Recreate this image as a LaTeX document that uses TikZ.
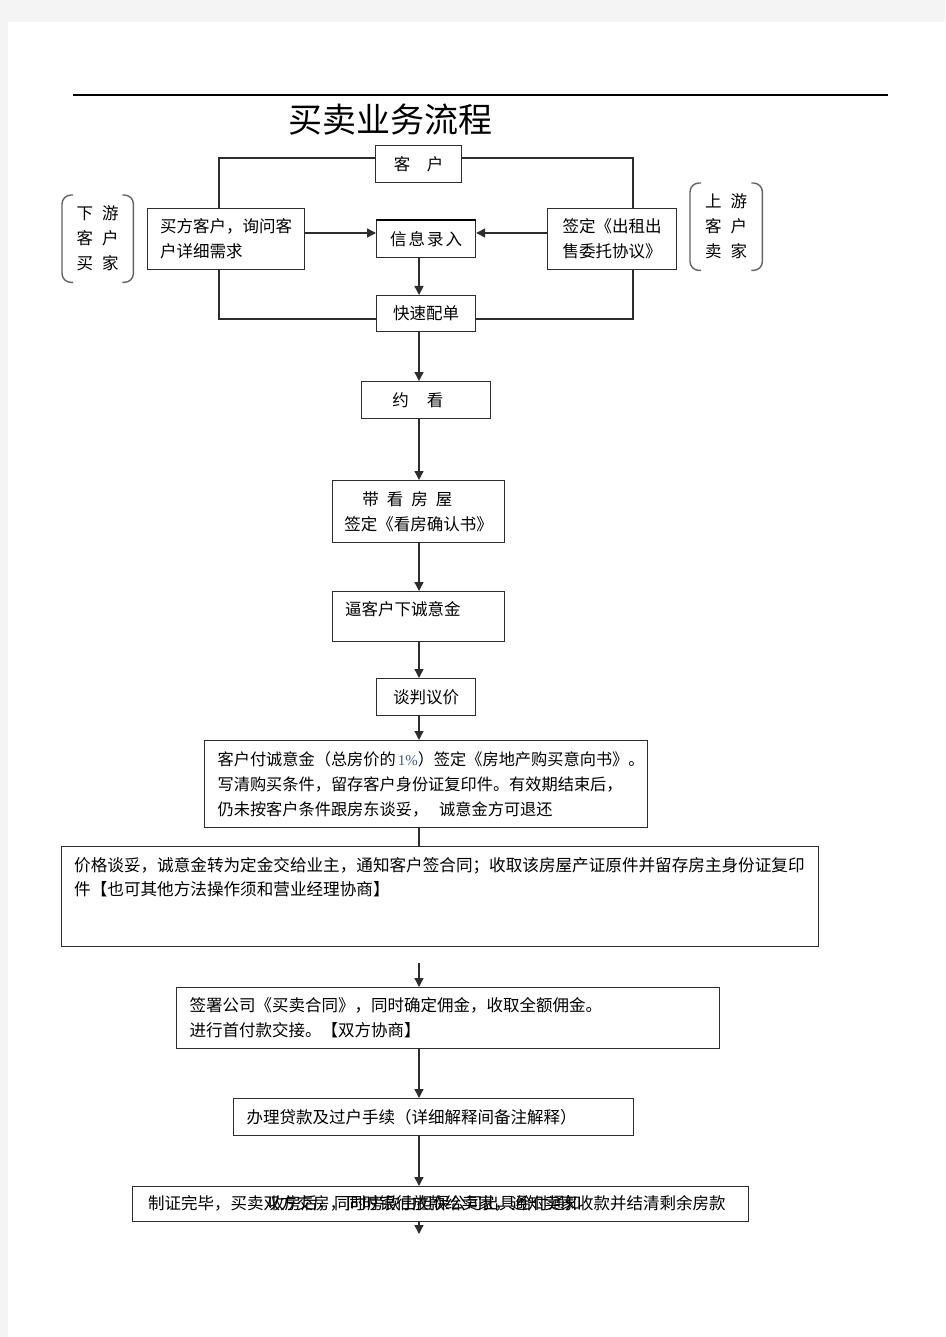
\documentclass[tikz,border=0pt]{standalone}
\usepackage{fontspec}
\setmainfont{Noto Sans CJK SC}
\newfontfamily\pctfont{Liberation Serif}
\usetikzlibrary{arrows.meta}
\definecolor{pagegrey}{RGB}{244,244,244}
\definecolor{linegrey}{RGB}{45,45,45}
\definecolor{parengrey}{RGB}{100,100,100}
\definecolor{pctblue}{RGB}{60,90,140}
\tikzset{
  box/.style={draw=linegrey, line width=1.2pt, anchor=north west, inner sep=0pt, align=left, font=\fontsize{16.5}{25}\selectfont},
  txt/.style={inner sep=0pt, align=left, font=\fontsize{16.5}{25}\selectfont},
  link/.style={draw=linegrey, line width=1.4pt},
  arr/.style={link, -{Triangle[length=9pt,width=9pt]}},
  paren/.style={draw=parengrey, line width=1.4pt, rounded corners=9pt},
}

\begin{document}
\begin{tikzpicture}[x=1pt,y=1pt,yscale=-1]
\useasboundingbox (0,0) rectangle (945,1337);
\fill[pagegrey] (0,0) rectangle (945,1337);
\fill[white] (8,22) rectangle (945,1337);
\draw[line width=1.2pt] (73,95) -- (888,95);
\node[font=\fontsize{34}{34}\selectfont, inner sep=0pt] (title) at (390,120) {买卖业务流程};

\coordinate (spine) at (419,0);
\coordinate (lx) at (219,0);
\coordinate (rx) at (633,0);
\coordinate (toprow) at (0,158);
\coordinate (midrow) at (0,233);
\coordinate (lowrow) at (0,319);
\coordinate (gapstart) at (419,963);
\coordinate (tail) at (419,1234);

\node[txt, anchor=north west, minimum width=71, minimum height=87, align=center] (xiayou) at (62,195) {下\hspace{9pt}游\\客\hspace{9pt}户\\买\hspace{9pt}家};
\draw[paren] ([xshift=11pt]xiayou.north west) -- (xiayou.north west) -- (xiayou.south west) -- ([xshift=11pt]xiayou.south west);
\draw[paren] ([xshift=-11pt]xiayou.north east) -- (xiayou.north east) -- (xiayou.south east) -- ([xshift=-11pt]xiayou.south east);
\node[txt, anchor=north west, minimum width=72, minimum height=87, align=center] (shangyou) at (690,183) {上\hspace{9pt}游\\客\hspace{9pt}户\\卖\hspace{9pt}家};
\draw[paren] ([xshift=11pt]shangyou.north west) -- (shangyou.north west) -- (shangyou.south west) -- ([xshift=11pt]shangyou.south west);
\draw[paren] ([xshift=-11pt]shangyou.north east) -- (shangyou.north east) -- (shangyou.south east) -- ([xshift=-11pt]shangyou.south east);

\node[box, minimum width=86, minimum height=37] (ke) at (375,145) {客\hspace{1em}户};
\node[box, minimum width=157, minimum height=61] (maifang) at (147,208) {买方客户，询问客\\户详细需求};
\node[box, minimum width=99, minimum height=37] (xinxi) at (376,220) {信\hspace{2pt}息\hspace{2pt}录\hspace{2pt}入};
\draw[line width=2.4pt] (xinxi.north west) -- (xinxi.north east);
\node[box, minimum width=129, minimum height=61] (qianding) at (547,208) {签定《出租出\\售委托协议》};
\node[box, minimum width=99, minimum height=36] (kuaisu) at (376,295) {快速配单};
\node[box, minimum width=129, minimum height=37] (yuekan) at (361,381) {约\hspace{18pt}看\phantom{户}};
\node[box, minimum width=172, minimum height=62] (daikan) at (332,480) {\hspace{18pt}带\hspace{8pt}看\hspace{8pt}房\hspace{8pt}屋\\签定《看房确认书》};
\node[box, minimum width=172, minimum height=50] (bi) at (332,591) {};
\node[txt, anchor=north west] (bitxt) at (345,601) {逼客户下诚意金};
\node[box, minimum width=99, minimum height=37] (tanpan) at (376,678) {谈判议价};
\node[box, minimum width=443, minimum height=87, text width=417, inner xsep=13pt, font=\fontsize{16.2}{25}\selectfont] (chengyi) at (204,740) {\mbox{客户付诚意金（总房价的\hspace{2pt}{\pctfont\fontsize{15}{25}\selectfont\color{pctblue}1\%}）签定《房地产购买意向书》。}\\写清购买条件，留存客户身份证复印件。有效期结束后，\\\mbox{仍未按客户条件跟房东谈妥，\hspace{11pt}诚意金方可退还}};
\node[box, minimum width=757, minimum height=100] (jiage) at (61,846) {};
\node[txt, anchor=north west, font=\fontsize{16.6}{24}\selectfont] (jiagetxt) at (74,857) {价格谈妥，诚意金转为定金交给业主，通知客户签合同；收取该房屋产证原件并留存房主身份证复印\\件【也可其他方法操作须和营业经理协商】};
\node[box, minimum width=543, minimum height=61, text width=517, inner xsep=13pt] (qianshu) at (176,987) {签署公司《买卖合同》，同时确定佣金，收取全额佣金。\\进行首付款交接。【双方协商】};
\node[box, minimum width=400, minimum height=37, text width=374, inner xsep=13pt] (banli) at (233,1098) {办理贷款及过户手续（详细解释间备注解释）};
\node[box, minimum width=616, minimum height=35] (zhizheng) at (132,1186) {};
\node[txt, anchor=west] (zhizhenga) at (148,1203.5) {制证完毕，买卖双方交房，同时银行放款给卖家，通知卖家收款并结清剩余房款};
\node[txt, anchor=west] (zhizhengb) at (268,1203.5) {收房后，同时房款由担保公司出具给付通知};

\draw[link] (ke.west |- toprow) -| (maifang.north -| lx);
\draw[link] (maifang.south -| lx) |- (kuaisu.west |- lowrow);
\draw[link] (ke.east |- toprow) -| (qianding.north -| rx);
\draw[link] (qianding.south -| rx) |- (kuaisu.east |- lowrow);
\draw[arr] (maifang.east |- midrow) -- (xinxi.west |- midrow);
\draw[arr] (qianding.west |- midrow) -- (xinxi.east |- midrow);
\draw[arr] (xinxi.south -| spine) -- (kuaisu.north -| spine);
\draw[arr] (kuaisu.south -| spine) -- (yuekan.north -| spine);
\draw[arr] (yuekan.south -| spine) -- (daikan.north -| spine);
\draw[arr] (daikan.south -| spine) -- (bi.north -| spine);
\draw[arr] (bi.south -| spine) -- (tanpan.north -| spine);
\draw[arr] (tanpan.south -| spine) -- (chengyi.north -| spine);
\draw[link] (chengyi.south -| spine) -- (jiage.north -| spine);
\draw[arr] (gapstart) -- (qianshu.north -| spine);
\draw[arr] (qianshu.south -| spine) -- (banli.north -| spine);
\draw[arr] (banli.south -| spine) -- (zhizheng.north -| spine);
\draw[arr] (zhizheng.south -| spine) -- (tail);
\end{tikzpicture}
\end{document}
